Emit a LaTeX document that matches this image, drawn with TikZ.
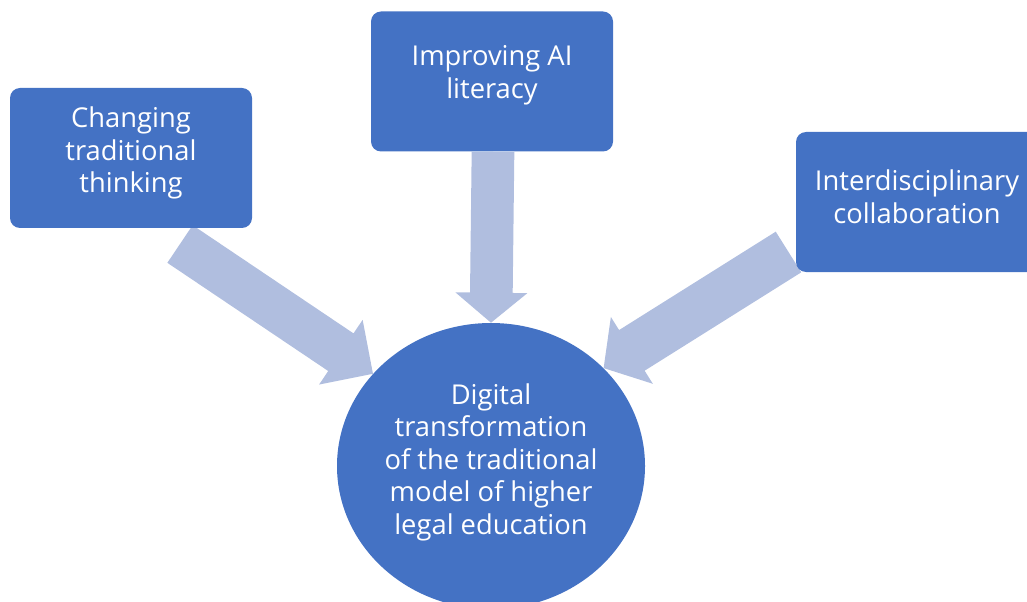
\documentclass[tikz,border=0pt]{standalone}
\usepackage{fontspec}
\setmainfont{Open Sans}
\usetikzlibrary{shapes.geometric,calc,backgrounds}
\definecolor{boxblue}{HTML}{4472C4}
\definecolor{arrblue}{HTML}{B0BEDF}
\tikzset{
  box/.style={fill=boxblue, rounded corners=7.5pt, minimum width=181.5pt, minimum height=105pt, inner sep=0pt},
  lbl/.style={text=white, align=center, font=\fontsize{20.5}{24.4}\selectfont, inner sep=0pt},
  hub/.style={ellipse, fill=boxblue, minimum width=231pt, minimum height=214.5pt, inner sep=0pt},
  arr/.style={fill=arrblue},
}
% tail, tip, shaft half width, head half width, head length
\newcommand\blockarrow[5]{%
  \coordinate (hb) at ($(#2)!#5!(#1)$);
  \fill[arr] ($(#1)!#3!90:(#2)$) -- ($(hb)!#3!90:(#2)$) -- ($(hb)!#4!90:(#2)$) -- (#2)
    -- ($(hb)!#4!-90:(#2)$) -- ($(hb)!#3!-90:(#2)$) -- ($(#1)!#3!-90:(#2)$) -- cycle;}
\begin{document}
\begin{tikzpicture}[x=0.75pt,y=-0.75pt]
\useasboundingbox (0,0) rectangle (1027,602);
\clip (0,0) rectangle (1027,602);
\node[box] (lbox) at (131,158) {};
\node[lbl] (ltext) at (131,153) {Changing\\traditional\\thinking};
\node[box] (tbox) at (492,81.5) {};
\node[lbl] (ttext) at (492,75) {Improving AI\\literacy};
\node[box] (rbox) at (917,202) {};
\node[lbl] (rtext) at (917,197) {Interdisciplinary\\collaboration};
\node[hub] (hub) at (491,466) {};
\node[lbl] (htext) at (491,462) {Digital\\transformation\\of the traditional\\model of higher\\legal education};
\coordinate (ltail) at (180,244);
\coordinate (ttail) at (493,152);
\coordinate (rtail) at (788.5,252);
\coordinate (ltip) at (hub.142);
\coordinate (ttip) at (hub.90);
\coordinate (rtip) at (hub.41);
\begin{pgfonlayer}{background}
\blockarrow{ltail}{ltip}{17pt}{29.25pt}{29pt}
\blockarrow{ttail}{ttip}{16pt}{27pt}{22.5pt}
\blockarrow{rtail}{rtip}{18pt}{29.6pt}{25pt}
\end{pgfonlayer}
\end{tikzpicture}
\end{document}
